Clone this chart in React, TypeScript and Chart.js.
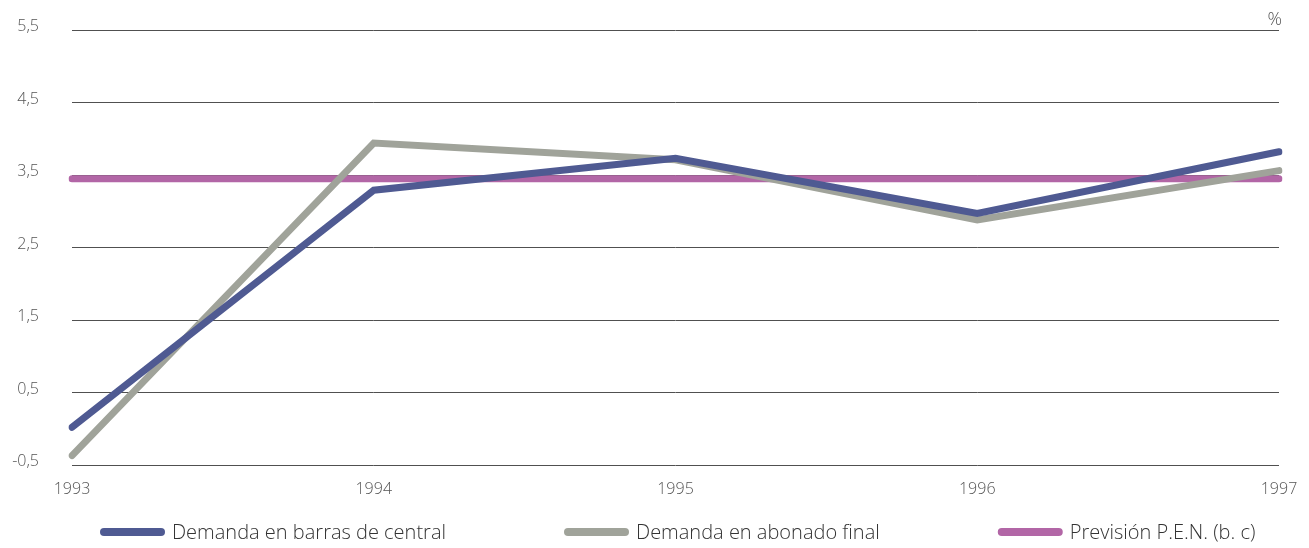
import React, { useEffect, useRef } from "react";
import { Chart, registerables } from "chart.js";

Chart.register(...registerables);

// Years on the horizontal axis
const years = ["1993", "1994", "1995", "1996", "1997"];

// Annual growth of electricity demand, %
const demandaBarras = [0.02, 3.29, 3.73, 2.97, 3.82];
const demandaAbonado = [-0.37, 3.94, 3.71, 2.88, 3.56];
const previsionPEN = [3.45, 3.45, 3.45, 3.45, 3.45];

// Gridline values on the y axis
const yTicks = [-0.5, 0.5, 1.5, 2.5, 3.5, 4.5, 5.5];

const seriesNames = [
  "Demanda en barras de central",
  "Demanda en abonado final",
  "Previsión P.E.N. (b. c)",
];
const seriesColors = ["#4f5a92", "#a0a39a", "#b266a6"];

const FONT = "'Open Sans', 'DejaVu Sans', sans-serif";

const fmt = (v: number) => v.toFixed(1).replace(".", ",");

// Draws the "%" unit above the right end of the plot area
const unitLabel = {
  id: "unitLabel",
  afterDraw(chart: Chart) {
    const { ctx, chartArea } = chart;
    ctx.save();
    ctx.font = `300 18px ${FONT}`;
    ctx.fillStyle = "#555";
    ctx.textAlign = "right";
    ctx.textBaseline = "alphabetic";
    ctx.fillText("%", chartArea.right + 3, chartArea.top - 5);
    ctx.restore();
  },
};

// Legend row below the x axis: a thick rounded stroke followed by the series name
const lineLegend = {
  id: "lineLegend",
  afterDraw(chart: Chart) {
    const { ctx, chartArea } = chart;
    const y = 532;
    const lineLen = 57;
    const cap = 4;
    const textGap = 7;
    const itemGap = 118;
    ctx.save();
    ctx.font = `300 20px ${FONT}`;
    ctx.textBaseline = "middle";
    ctx.textAlign = "left";
    let x = chartArea.left + 32;
    chart.data.datasets.forEach((ds: any) => {
      ctx.strokeStyle = ds.borderColor;
      ctx.lineWidth = 8;
      ctx.lineCap = "round";
      ctx.beginPath();
      ctx.moveTo(x, y);
      ctx.lineTo(x + lineLen, y);
      ctx.stroke();
      const tx = x + lineLen + cap + textGap;
      ctx.fillStyle = "#333";
      ctx.fillText(ds.label, tx, y + 1);
      x = tx + ctx.measureText(ds.label).width + itemGap + cap;
    });
    ctx.restore();
  },
};

export default function App() {
  const canvasRef = useRef<HTMLCanvasElement>(null);

  useEffect(() => {
    if (!canvasRef.current) return;
    const datasets = [demandaBarras, demandaAbonado, previsionPEN].map((d, i) => ({
      label: seriesNames[i],
      data: d,
      borderColor: seriesColors[i],
      backgroundColor: seriesColors[i],
      borderWidth: 7,
      borderCapStyle: "round" as const,
      borderJoinStyle: "miter" as const,
      pointRadius: 0,
      pointHoverRadius: 0,
      tension: 0,
      order: i === 2 ? 3 : i === 0 ? 1 : 2,
    }));

    const chart = new Chart(canvasRef.current, {
      type: "line",
      data: { labels: years, datasets },
      options: {
        animation: false,
        responsive: false,
        layout: { padding: { top: 30, right: 30, left: 0, bottom: 43 } },
        plugins: {
          tooltip: { enabled: false },
          legend: { display: false },
        },
        scales: {
          x: {
            offset: false,
            grid: { display: false, drawTicks: false },
            border: { display: false },
            afterFit: (axis: any) => {
              axis.height = 40;
              axis.paddingLeft = 0;
              axis.paddingRight = 0;
            },
            ticks: {
              color: "#555",
              padding: 15,
              maxRotation: 0,
              font: { family: FONT, size: 16, weight: "300" as any },
            },
          },
          y: {
            min: -0.5,
            max: 5.5,
            afterBuildTicks: (axis: any) => {
              axis.ticks = yTicks.map((v) => ({ value: v }));
            },
            afterFit: (axis: any) => {
              axis.width = 72;
              axis.paddingTop = 0;
              axis.paddingBottom = 0;
            },
            grid: { color: "#505050", lineWidth: 1, drawTicks: false },
            border: { display: false },
            ticks: {
              color: "#555",
              padding: 33,
              labelOffset: -3.5,
              font: { family: FONT, size: 16, weight: "300" as any },
              callback: (v: any) => fmt(Number(v)),
            },
          },
        },
      },
      plugins: [unitLabel, lineLegend],
    });
    return () => chart.destroy();
  }, []);

  return (
    <div style={{ position: "fixed", left: 0, top: 0, width: 1309, height: 548, background: "#fff" }}>
      <canvas ref={canvasRef} width={1309} height={548} />
    </div>
  );
}
